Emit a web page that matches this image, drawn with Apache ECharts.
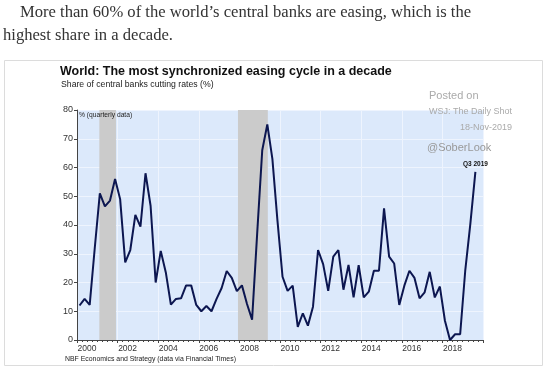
<!DOCTYPE html>
<html>
<head>
<meta charset="utf-8">
<script src="https://cdn.jsdelivr.net/npm/echarts@6/dist/echarts.min.js"></script>
<style>
html,body{margin:0;padding:0;background:#fff;}
#chart{width:549px;height:371px;}
</style>
</head>
<body>
<div id="chart"></div>
<script>
// ---- data (quarterly, 2000Q1 .. 2019Q3) ----
const firstYear = 2000;
const shareCutting = [
  12, 14.3, 12.2, 32, 51, 46.5, 48.5, 56,
  49, 27, 31.3, 43.5, 39.4, 58, 46.7, 20,
  31, 23.5, 12.3, 14.3, 14.5, 19, 19, 12.2,
  10, 11.8, 10, 14.3, 18.1, 24, 21.6, 17,
  19, 12.5, 7.1, 37, 66, 75, 63, 41.5,
  22, 17.1, 18.9, 4.6, 9.3, 5, 11.6, 31.3,
  26.4, 17.1, 29, 31.3, 17.5, 26.1, 14.8, 26,
  14.8, 16.8, 24.1, 24.1, 45.8, 29, 26.6, 12.2,
  18.9, 24.1, 21.6, 14.5, 16.6, 23.7, 14.8, 18.6,
  6.7, 0, 2, 2, 24.1, 40.3, 58.5
];
const quarterLabels = shareCutting.map((_, i) =>
  (firstYear + Math.floor(i / 4)) + 'Q' + (i % 4 + 1));
const recessions = [[2001.1, 2001.92], [2007.93, 2009.4]];
const yTicks = [0, 10, 20, 30, 40, 50, 60, 70, 80];
const xTickYears = [2000, 2002, 2004, 2006, 2008, 2010, 2012, 2014, 2016, 2018];
const lastLabel = 'Q3 2019';

// quarter label -> decimal year at mid-quarter
function qToX(label) {
  const y = parseInt(label.slice(0, 4), 10);
  const q = parseInt(label.slice(5), 10);
  return y + (q - 0.5) / 4;
}
const seriesData = shareCutting.map((v, i) => [qToX(quarterLabels[i]), v]);
const last = seriesData[seriesData.length - 1];

const sans = '"Liberation Sans", Arial, sans-serif';
const serif = '"Liberation Serif", Georgia, serif';
const chart = echarts.init(document.getElementById('chart'), null, {renderer: 'canvas'});
chart.setOption({
  animation: false,
  backgroundColor: '#ffffff',
  graphic: [
    {type: 'rect', z: -10, shape: {x: 4.5, y: 60.5, width: 538, height: 305},
     style: {fill: '#ffffff', stroke: '#dcdcdc', lineWidth: 1}},
    {type: 'text', left: 20, top: 4, style: {text: 'More than 60% of the world\u2019s central banks are easing, which is the',
      font: '16.6px ' + serif, fill: '#333333'}},
    {type: 'text', left: 3, top: 27, style: {text: 'highest share in a decade.',
      font: '16.6px ' + serif, fill: '#333333'}},
    {type: 'text', left: 60, top: 65, style: {text: 'World: The most synchronized easing cycle in a decade',
      font: 'bold 12.5px ' + sans, fill: '#111111'}},
    {type: 'text', left: 61, top: 80, style: {text: 'Share of central banks cutting rates (%)',
      font: '8.7px ' + sans, fill: '#222222'}},
    {type: 'text', left: 79, top: 112, z: 10, style: {text: '% (quarterly data)',
      font: '6.7px ' + sans, fill: '#222222'}},
    {type: 'text', left: 429, top: 90, z: 10, style: {text: 'Posted on',
      font: '11px ' + sans, fill: '#aaaaaa'}},
    {type: 'text', left: 429, top: 107, z: 10, style: {text: 'WSJ: The Daily Shot',
      font: '9px ' + sans, fill: '#aaaaaa'}},
    {type: 'text', right: 37, top: 123, z: 10, style: {text: '18-Nov-2019',
      font: '9px ' + sans, fill: '#aaaaaa', align: 'right'}},
    {type: 'text', left: 427, top: 142, z: 10, style: {text: '@SoberLook',
      font: '11px ' + sans, fill: '#999999'}},
    {type: 'text', left: 65, top: 356, style: {text: 'NBF Economics and Strategy (data via Financial Times)',
      font: '6.9px ' + sans, fill: '#222222'}}
  ],
  grid: {left: 77, top: 110, width: 406, height: 230, show: true,
         backgroundColor: '#dce9fb', borderWidth: 0},
  xAxis: {
    type: 'value', min: 2000, max: 2020, interval: 2,
    axisLine: {show: true, onZero: false, lineStyle: {color: '#444444', width: 1}},
    axisTick: {show: true, length: 3, lineStyle: {color: '#444444'}},
    minorTick: {show: true, splitNumber: 8, length: 2, lineStyle: {color: '#444444'}},
    splitLine: {show: true, lineStyle: {color: '#eef4fe', width: 1}},
    axisLabel: {
      fontFamily: sans, fontSize: 8.5, color: '#333333', margin: 4,
      padding: [0, 0, 0, 20],
      formatter: v => (xTickYears.indexOf(v) >= 0 ? String(v) : '')
    }
  },
  yAxis: {
    type: 'value', min: 0, max: 80, interval: 10,
    axisLine: {show: true, lineStyle: {color: '#444444', width: 1}},
    axisTick: {show: true, length: 3, lineStyle: {color: '#444444'}},
    splitLine: {show: true, lineStyle: {color: '#eef4fe', width: 1}},
    axisLabel: {fontFamily: sans, fontSize: 9, color: '#333333', margin: 4,
      formatter: v => (yTicks.indexOf(v) >= 0 ? String(v) : '')}
  },
  series: [{
    type: 'line',
    data: seriesData,
    showSymbol: false,
    symbol: 'none',
    lineStyle: {color: '#0c1650', width: 2},
    z: 3,
    markArea: {
      silent: true,
      itemStyle: {color: '#cbcbcb'},
      data: recessions.map(r => [{xAxis: r[0]}, {xAxis: r[1]}])
    },
    markPoint: {
      symbol: 'circle', symbolSize: 0,
      data: [{coord: last, value: lastLabel}],
      label: {show: true, position: 'top', distance: 4, formatter: lastLabel,
        fontFamily: sans, fontSize: 6.5, fontWeight: 'bold', color: '#111111'}
    }
  }]
});
</script>
</body>
</html>
